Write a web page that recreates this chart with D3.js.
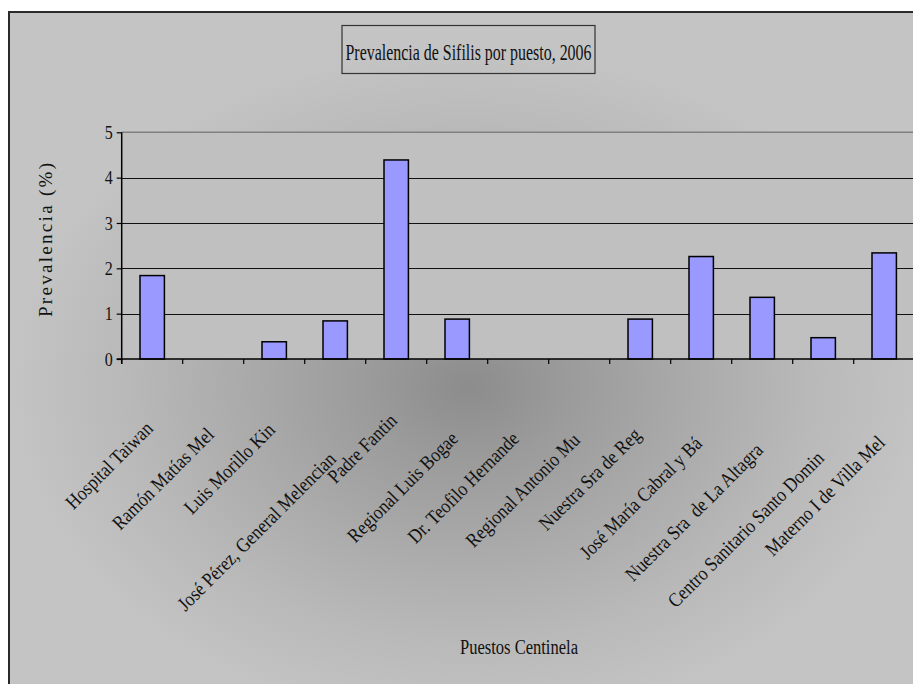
<!DOCTYPE html>
<html><head><meta charset="utf-8">
<script src="https://cdn.jsdelivr.net/npm/d3@7"></script>
<style>
html,body{margin:0;padding:0;background:#fff;}
svg{display:block;}
text{font-family:"Liberation Serif","Times New Roman",serif;fill:#111;}
</style></head>
<body>
<svg id="chart" width="913" height="684"></svg>
<script>
// ---- data ----
const categories = [
  "Hospital Taiwan", "Ramón Matías Mella", "Luis Morillo King",
  "José Pérez, General Melenciano", "Padre Fantino", "Regional Luis Bogaert",
  "Dr. Teofilo Hernandez", "Regional Antonio Musa", "Nuestra Sra de Regla",
  "José María Cabral y Báez", "Nuestra Sra de La Altagracia",
  "Centro Sanitario Santo Domingo", "Materno I de Villa Mella"
];
const tickLabels = [
  "Hospital Taiwan", "Ramón Matías Mel", "Luis Morillo Kin",
  "José Pérez, General Melencian", "Padre Fantin", "Regional Luis Bogae",
  "Dr. Teofilo Hernande", "Regional Antonio Mu", "Nuestra Sra de Reg",
  "José María Cabral y Bá", "Nuestra Sra  de La Altagra",
  "Centro Sanitario Santo Domin", "Materno I de Villa Mel"
];
const values = [1.84, 0, 0.38, 0.84, 4.39, 0.88, 0, 0, 0.88, 2.26, 1.36, 0.47, 2.34];
const yTicks = [0, 1, 2, 3, 4, 5];
const titleText = "Prevalencia de Sifilis por puesto, 2006";
const yTitle = "Prevalencia (%)";
const xTitle = "Puestos Centinela";

// ---- layout ----
const svg = d3.select("#chart");
const chartBox = {x: 9, y: 12, w: 918, h: 680};
const plot = {left: 121.7, top: 132.3, right: 914.7, bottom: 359};

const defs = svg.append("defs");
const grad = defs.append("radialGradient").attr("id", "bg")
  .attr("cx", 0.5).attr("cy", 0.55).attr("r", 0.5);
[["0%", "#8c8c8c"], ["22%", "#9b9b9b"], ["50%", "#ababab"], ["75%", "#b9b9b9"], ["100%", "#c4c4c4"]]
  .forEach(([o, c]) => grad.append("stop").attr("offset", o).attr("stop-color", c));

svg.append("rect")
  .attr("x", chartBox.x).attr("y", chartBox.y)
  .attr("width", chartBox.w).attr("height", chartBox.h)
  .attr("fill", "url(#bg)").attr("stroke", "#2a2a2a").attr("stroke-width", 2);

// title
svg.append("rect").attr("x", 342).attr("y", 25.5).attr("width", 253).attr("height", 48)
  .attr("fill", "none").attr("stroke", "#333").attr("stroke-width", 1.2);
svg.append("text").attr("x", 468.5).attr("y", 60).attr("text-anchor", "middle")
  .attr("font-size", 23).attr("textLength", 246).attr("lengthAdjust", "spacingAndGlyphs")
  .text(titleText);

// scales
const x = d3.scaleBand().domain(categories).range([plot.left, plot.right])
  .paddingInner(0.6).paddingOuter(0.3);
const slot = d3.scaleBand().domain(categories).range([plot.left, plot.right]);
const y = d3.scaleLinear().domain([0, 5]).range([plot.bottom, plot.top]);

// plot area
svg.append("rect").attr("x", plot.left).attr("y", plot.top)
  .attr("width", plot.right - plot.left).attr("height", plot.bottom - plot.top)
  .attr("fill", "#c0c0c0");
svg.append("line").attr("x1", plot.left).attr("x2", plot.right)
  .attr("y1", y(5)).attr("y2", y(5)).attr("stroke", "#808080").attr("stroke-width", 1.5);

// gridlines
svg.append("g").selectAll("line").data(yTicks.filter(t => t > 0 && t < 5)).join("line")
  .attr("x1", plot.left).attr("x2", plot.right)
  .attr("y1", d => Math.round(y(d)) + 0.5).attr("y2", d => Math.round(y(d)) + 0.5)
  .attr("stroke", "#111").attr("stroke-width", 1);

// bars
const barData = values.map((v, i) => ({c: categories[i], v})).filter(d => d.v > 0);
svg.append("g").selectAll("rect").data(barData).join("rect")
  .attr("x", d => x(d.c)).attr("width", x.bandwidth())
  .attr("y", d => y(d.v)).attr("height", d => y(0) - y(d.v))
  .attr("fill", "#9999ff").attr("stroke", "#000").attr("stroke-width", 1.5);

// y axis
const yAxis = d3.axisLeft(y).tickValues(yTicks).tickSize(5).tickPadding(4).tickFormat(d3.format("d"));
const yg = svg.append("g").attr("transform", `translate(${plot.left},0)`).call(yAxis);
yg.select(".domain").remove();
yg.selectAll(".tick line").attr("stroke", "#000").attr("stroke-width", 1.2);
yg.selectAll(".tick text").attr("font-size", 19).attr("font-family", "Liberation Serif")
  .attr("fill", "#111").attr("textLength", 8).attr("lengthAdjust", "spacingAndGlyphs");
svg.append("line").attr("x1", plot.left).attr("x2", plot.left)
  .attr("y1", plot.top).attr("y2", plot.bottom + 5).attr("stroke", "#000").attr("stroke-width", 1.5);

// x axis
svg.append("line").attr("x1", plot.left - 5).attr("x2", plot.right)
  .attr("y1", plot.bottom).attr("y2", plot.bottom).attr("stroke", "#000").attr("stroke-width", 1.5);
svg.append("g").selectAll("line").data(categories).join("line")
  .attr("x1", d => slot(d)).attr("x2", d => slot(d))
  .attr("y1", plot.bottom).attr("y2", plot.bottom + 5)
  .attr("stroke", "#000").attr("stroke-width", 1.2);

// category labels (rotated)
const lg = svg.append("g");
tickLabels.forEach((lab, i) => {
  const cx = x(categories[i]) + x.bandwidth() / 2;
  const t = lg.append("text")
    .attr("font-size", 20).attr("text-anchor", "end")
    .attr("dominant-baseline", "central").style("white-space", "pre")
    .text(lab);
  const len = t.node().getComputedTextLength() * 0.87;
  t.attr("textLength", len).attr("lengthAdjust", "spacingAndGlyphs");
  const tipY = plot.bottom + 26 + 0.305 * len;
  t.attr("transform", `translate(${cx - 3},${tipY + 5}) rotate(-45)`);
});

// axis titles
svg.append("text").attr("transform", "translate(52,240) rotate(-90)")
  .attr("text-anchor", "middle").attr("font-size", 19)
  .attr("textLength", 154).attr("lengthAdjust", "spacing").text(yTitle);
svg.append("text").attr("x", 519).attr("y", 654).attr("text-anchor", "middle")
  .attr("font-size", 20).attr("textLength", 118).attr("lengthAdjust", "spacingAndGlyphs")
  .text(xTitle);
</script>
</body></html>
